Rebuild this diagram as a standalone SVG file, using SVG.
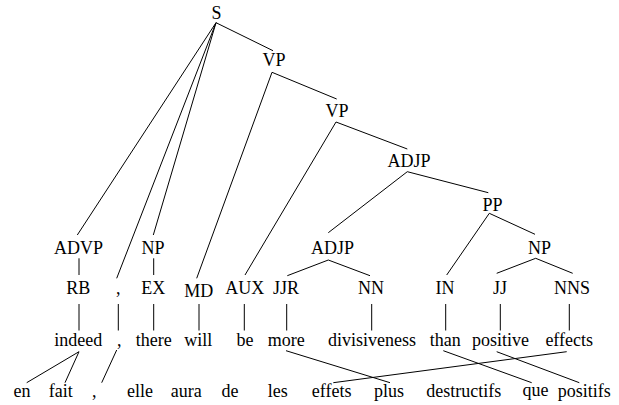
<svg xmlns="http://www.w3.org/2000/svg" width="619" height="405" viewBox="0 0 619 405">
<style>
text{fill:#000;text-anchor:middle}
line{stroke:#000;stroke-width:1}
</style>
<rect width="619" height="405" fill="#fff"/>
<g id="connectors">
<line x1="216" y1="22.7" x2="273" y2="50.7"/>
<line x1="216" y1="22.7" x2="77.3" y2="235"/>
<line x1="216" y1="22.7" x2="116.7" y2="278.3"/>
<line x1="216" y1="22.7" x2="153.3" y2="235"/>
<line x1="272" y1="72.3" x2="336.7" y2="99"/>
<line x1="272" y1="72.3" x2="196.7" y2="278.3"/>
<line x1="336" y1="122" x2="407.3" y2="149"/>
<line x1="336" y1="122" x2="245" y2="275"/>
<line x1="407.3" y1="171.7" x2="488.3" y2="192.7"/>
<line x1="407.3" y1="171.7" x2="328.3" y2="232.7"/>
<line x1="489.3" y1="213.3" x2="446.7" y2="275"/>
<line x1="489.3" y1="213.3" x2="535" y2="234.3"/>
<line x1="328.3" y1="260" x2="287.3" y2="275.7"/>
<line x1="328.3" y1="260" x2="370" y2="275.7"/>
<line x1="535.7" y1="258.3" x2="496.7" y2="273.3"/>
<line x1="535.7" y1="258.3" x2="572.7" y2="273.3"/>
<line x1="79" y1="258.3" x2="79" y2="275"/>
<line x1="153.7" y1="258.3" x2="153.7" y2="275"/>
<line x1="79" y1="304" x2="79" y2="330.5"/>
<line x1="118.3" y1="304" x2="118.3" y2="330.5"/>
<line x1="153.7" y1="304" x2="153.7" y2="330.5"/>
<line x1="199" y1="304" x2="199" y2="330.5"/>
<line x1="244.3" y1="304" x2="244.3" y2="330.5"/>
<line x1="286.7" y1="304" x2="286.7" y2="330.5"/>
<line x1="371.7" y1="304" x2="371.7" y2="330.5"/>
<line x1="445.7" y1="304" x2="445.7" y2="330.5"/>
<line x1="500.3" y1="304" x2="500.3" y2="330.5"/>
<line x1="569.3" y1="304" x2="569.3" y2="330.5"/>
<line x1="79" y1="351.7" x2="26.7" y2="382.7"/>
<line x1="79" y1="351.7" x2="65" y2="382.7"/>
<line x1="116.7" y1="350" x2="101.7" y2="382.7"/>
<line x1="286" y1="350.7" x2="390" y2="382.7"/>
<line x1="566.7" y1="351.7" x2="333.3" y2="382.7"/>
<line x1="443.3" y1="350.7" x2="531.7" y2="382.7"/>
<line x1="496.7" y1="351.7" x2="579.3" y2="382.7"/>
</g>
<g id="n-S"><text x="216.5" y="19" font-family="'Liberation Serif'" font-size="18">S</text></g>
<g id="n-VP1"><text x="274" y="66" font-family="'Liberation Serif'" font-size="18">VP</text></g>
<g id="n-VP2"><text x="337" y="117" font-family="'Liberation Serif'" font-size="18">VP</text></g>
<g id="n-ADJP1"><text x="409" y="166.5" font-family="'Liberation Serif'" font-size="18">ADJP</text></g>
<g id="n-PP"><text x="492.5" y="210.5" font-family="'Liberation Serif'" font-size="18">PP</text></g>
<g id="n-ADVP"><text x="78.5" y="254" font-family="'Liberation Serif'" font-size="18">ADVP</text></g>
<g id="n-NP1"><text x="153" y="254" font-family="'Liberation Serif'" font-size="18">NP</text></g>
<g id="n-ADJP2"><text x="332.5" y="254" font-family="'Liberation Serif'" font-size="18">ADJP</text></g>
<g id="n-NP2"><text x="539.5" y="254" font-family="'Liberation Serif'" font-size="18">NP</text></g>
<g id="n-RB"><text x="78.3" y="294" font-family="'Liberation Serif'" font-size="18">RB</text></g>
<g id="n-COMMA"><text x="118.3" y="294" font-family="'Liberation Serif'" font-size="18">,</text></g>
<g id="n-EX"><text x="153.3" y="294" font-family="'Liberation Serif'" font-size="18">EX</text></g>
<g id="n-MD"><text x="198.8" y="296.5" font-family="'Liberation Serif'" font-size="18">MD</text></g>
<g id="n-AUX"><text x="244.7" y="294" font-family="'Liberation Serif'" font-size="18">AUX</text></g>
<g id="n-JJR"><text x="286" y="294" font-family="'Liberation Serif'" font-size="18">JJR</text></g>
<g id="n-NN"><text x="371" y="294" font-family="'Liberation Serif'" font-size="18">NN</text></g>
<g id="n-IN"><text x="445" y="294" font-family="'Liberation Serif'" font-size="18">IN</text></g>
<g id="n-JJ"><text x="500" y="294" font-family="'Liberation Serif'" font-size="18">JJ</text></g>
<g id="n-NNS"><text x="572" y="294" font-family="'Liberation Serif'" font-size="18">NNS</text></g>
<g id="w-indeed"><text x="78.3" y="346" font-family="'Liberation Serif'" font-size="18">indeed</text></g>
<g id="w-comma"><text x="119.3" y="346" font-family="'Liberation Serif'" font-size="18">,</text></g>
<g id="w-there"><text x="153.7" y="346" font-family="'Liberation Serif'" font-size="18">there</text></g>
<g id="w-will"><text x="198.3" y="346" font-family="'Liberation Serif'" font-size="18">will</text></g>
<g id="w-be"><text x="245" y="346" font-family="'Liberation Serif'" font-size="18">be</text></g>
<g id="w-more"><text x="286.3" y="346" font-family="'Liberation Serif'" font-size="18">more</text></g>
<g id="w-divisiveness"><text x="372" y="346" font-family="'Liberation Serif'" font-size="18">divisiveness</text></g>
<g id="w-than"><text x="445.3" y="346" font-family="'Liberation Serif'" font-size="18">than</text></g>
<g id="w-positive"><text x="500.5" y="346" font-family="'Liberation Serif'" font-size="18">positive</text></g>
<g id="w-effects"><text x="569.2" y="346" font-family="'Liberation Serif'" font-size="18">effects</text></g>
<g id="f-en"><text x="22" y="397" font-family="'Liberation Serif'" font-size="18">en</text></g>
<g id="f-fait"><text x="60.8" y="397" font-family="'Liberation Serif'" font-size="18">fait</text></g>
<g id="f-comma"><text x="94.3" y="397" font-family="'Liberation Serif'" font-size="18">,</text></g>
<g id="f-elle"><text x="140" y="397" font-family="'Liberation Serif'" font-size="18">elle</text></g>
<g id="f-aura"><text x="186.2" y="397" font-family="'Liberation Serif'" font-size="18">aura</text></g>
<g id="f-de"><text x="230" y="397" font-family="'Liberation Serif'" font-size="18">de</text></g>
<g id="f-les"><text x="277.8" y="397" font-family="'Liberation Serif'" font-size="18">les</text></g>
<g id="f-effets"><text x="331.7" y="397" font-family="'Liberation Serif'" font-size="18">effets</text></g>
<g id="f-plus"><text x="389" y="397" font-family="'Liberation Serif'" font-size="18">plus</text></g>
<g id="f-destructifs"><text x="463.8" y="397" font-family="'Liberation Serif'" font-size="18">destructifs</text></g>
<g id="f-que"><text x="535.5" y="396" font-family="'Liberation Serif'" font-size="18">que</text></g>
<g id="f-positifs"><text x="584.2" y="397" font-family="'Liberation Serif'" font-size="18">positifs</text></g>
</svg>
